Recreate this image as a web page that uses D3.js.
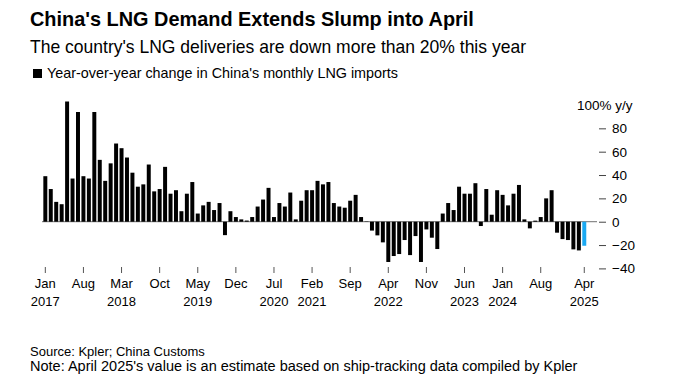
<!DOCTYPE html>
<html>
<head>
<meta charset="utf-8">
<script src="https://cdn.jsdelivr.net/npm/d3@7"></script>
<style>
  html, body { margin: 0; padding: 0; background: #fff; }
  svg { display: block; font-family: "Liberation Sans", Arial, sans-serif; }
</style>
</head>
<body>
<svg id="chart" width="680" height="391"></svg>
<script>
// ---- Data ----
const months = ["Jan","Feb","Mar","Apr","May","Jun","Jul","Aug","Sep","Oct","Nov","Dec"];
const startYear = 2017;
const values = [
  // 2017
  39, 28, 17, 15, 103, 37, 94, 39, 37, 94, 53, 35,
  // 2018
  50, 67, 63, 55, 42, 30, 32, 49, 26, 28, 47, 24,
  // 2019
  27, 9, 24, 34, 7, 14, 17, 10, 16, -11.5, 9, 4,
  // 2020
  2, 1, 4, 13, 19, 29, 4, 16, 13, 25, 2, 18,
  // 2021
  27, 27, 35, 32, 34, 16, 13, 12, 18, 23, 4, 0.3,
  // 2022
  -7.6, -11.7, -17.7, -34.5, -29.4, -27.7, -15.7, -28.6, -12.3, -34.5, -6.6, -13.7,
  // 2023
  -23.4, 7, 16, 10, 30, 24, 24, 33, -3.7, 28, 6, 27,
  // 2024
  23, 14, 24, 31.5, 2, -5.7, 0.9, 4, 20, 27, -9.4, -14.9,
  // 2025
  -15.7, -23.7, -24.6, -20.6
];
const categories = values.map((v, i) => months[i % 12] + " " + (startYear + Math.floor(i / 12)));
const estimateIndex = 99; // April 2025 estimate
const xTickMonths = ["Jan 2017","Aug 2017","Mar 2018","Oct 2018","May 2019","Dec 2019","Jul 2020","Feb 2021","Sep 2021","Apr 2022","Nov 2022","Jun 2023","Jan 2024","Aug 2024","Apr 2025"];
const xTickYearShown = ["Jan 2017","Mar 2018","May 2019","Jul 2020","Feb 2021","Apr 2022","Jun 2023","Jan 2024","Apr 2025"];
const yTicks = [80, 60, 40, 20, 0, -20, -40];
const yTopLabel = "100% y/y";

const titleText = "China's LNG Demand Extends Slump into April";
const subtitleText = "The country's LNG deliveries are down more than 20% this year";
const legendText = "Year-over-year change in China's monthly LNG imports";
const sourceText = "Source: Kpler; China Customs";
const noteText = "Note: April 2025's value is an estimate based on ship-tracking data compiled by Kpler";

// ---- Drawing ----
const svg = d3.select("#chart");

function fitText(sel, target) {
  const w = sel.node().getComputedTextLength();
  const fs = parseFloat(sel.attr("font-size"));
  sel.attr("font-size", (fs * target / w).toFixed(2));
}

const title = svg.append("text").attr("x", 30).attr("y", 26)
  .attr("font-size", 19).attr("font-weight", "bold").attr("fill", "#000").text(titleText);
fitText(title, 444);

const sub = svg.append("text").attr("x", 30).attr("y", 53)
  .attr("font-size", 17).attr("fill", "#000").text(subtitleText);
fitText(sub, 496);

svg.append("rect").attr("x", 33).attr("y", 69).attr("width", 9).attr("height", 9).attr("fill", "#000");
const leg = svg.append("text").attr("x", 47).attr("y", 78)
  .attr("font-size", 13).attr("fill", "#000").text(legendText);
fitText(leg, 351);

const x = d3.scaleBand().domain(categories).range([42.6, 587]).paddingInner(0.27).paddingOuter(0.135);
const y = d3.scaleLinear().domain([-40, 100]).range([268.4, 105]);

// zero line
svg.append("line").attr("x1", 42).attr("x2", 597)
  .attr("y1", y(0)).attr("y2", y(0)).attr("stroke", "#8c8c8c").attr("stroke-width", 1.3);

// bars
svg.append("g").selectAll("rect").data(values).join("rect")
  .attr("x", (d, i) => x(categories[i]))
  .attr("width", x.bandwidth())
  .attr("y", d => y(Math.max(0, d)))
  .attr("height", d => Math.abs(y(d) - y(0)))
  .attr("fill", (d, i) => i === estimateIndex ? "#1aa9f2" : "#000");

// y axis
const yAxis = d3.axisRight(y).tickValues(yTicks).tickSize(7).tickPadding(6).tickFormat(d3.format("d"));
const gy = svg.append("g").attr("transform", "translate(599,0)").call(yAxis);
gy.select(".domain").remove();
gy.selectAll(".tick line").attr("stroke", "#444").attr("stroke-width", 1);
gy.selectAll(".tick text").attr("font-size", 13.5).attr("fill", "#000")
  .attr("font-family", "'Liberation Sans', Arial, sans-serif");
svg.append("text").attr("x", 577).attr("y", y(100)).attr("dy", "0.35em")
  .attr("font-size", 13.5).attr("fill", "#000").text(yTopLabel);

// x axis
const xAxis = d3.axisBottom(x).tickValues(xTickMonths).tickSize(6).tickPadding(6)
  .tickFormat(d => d.split(" ")[0]);
const gx = svg.append("g").attr("transform", "translate(0,267)").call(xAxis);
gx.select(".domain").remove();
gx.selectAll(".tick line").attr("stroke", "#555").attr("stroke-width", 1);
gx.selectAll(".tick text").attr("font-size", 13).attr("fill", "#000")
  .attr("font-family", "'Liberation Sans', Arial, sans-serif").attr("y", 12);
gx.selectAll(".tick").filter(d => xTickYearShown.includes(d))
  .append("text").attr("y", 30).attr("dy", "0.71em").attr("text-anchor", "middle")
  .attr("font-size", 13).attr("fill", "#000")
  .attr("font-family", "'Liberation Sans', Arial, sans-serif")
  .text(d => d.split(" ")[1]);

// footnotes
const src = svg.append("text").attr("x", 30).attr("y", 356)
  .attr("font-size", 12).attr("fill", "#000").text(sourceText);
fitText(src, 175);
const note = svg.append("text").attr("x", 30).attr("y", 371)
  .attr("font-size", 12).attr("fill", "#000").text(noteText);
fitText(note, 548);
</script>
</body>
</html>
